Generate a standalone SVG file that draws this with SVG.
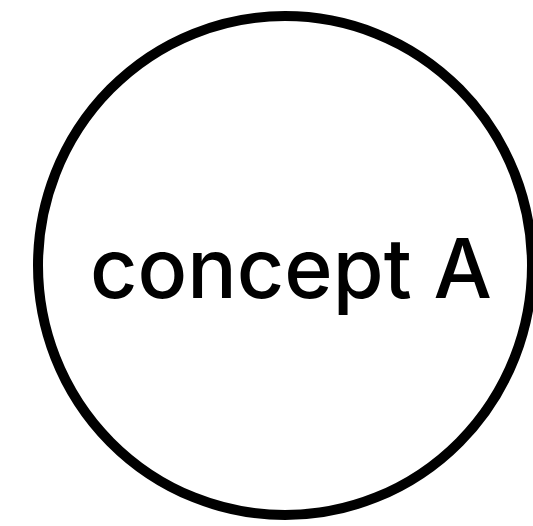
<svg xmlns="http://www.w3.org/2000/svg" width="533" height="526" viewBox="0 0 533 526">
<style>
.node-shape{fill:#ffffff;stroke:#000000;stroke-width:10}
.label{font-family:Inter,"Liberation Sans",Arial,sans-serif;font-weight:500;font-size:83px;fill:#000000}
</style>
<rect width="533" height="526" fill="#ffffff"/>
<g id="connectors"></g>
<g id="conceptA">
<ellipse class="node-shape" cx="285" cy="265.5" rx="247" ry="249.5"/>
<text class="label" x="90" y="298" textLength="402" lengthAdjust="spacingAndGlyphs">concept A</text>
</g>
</svg>
